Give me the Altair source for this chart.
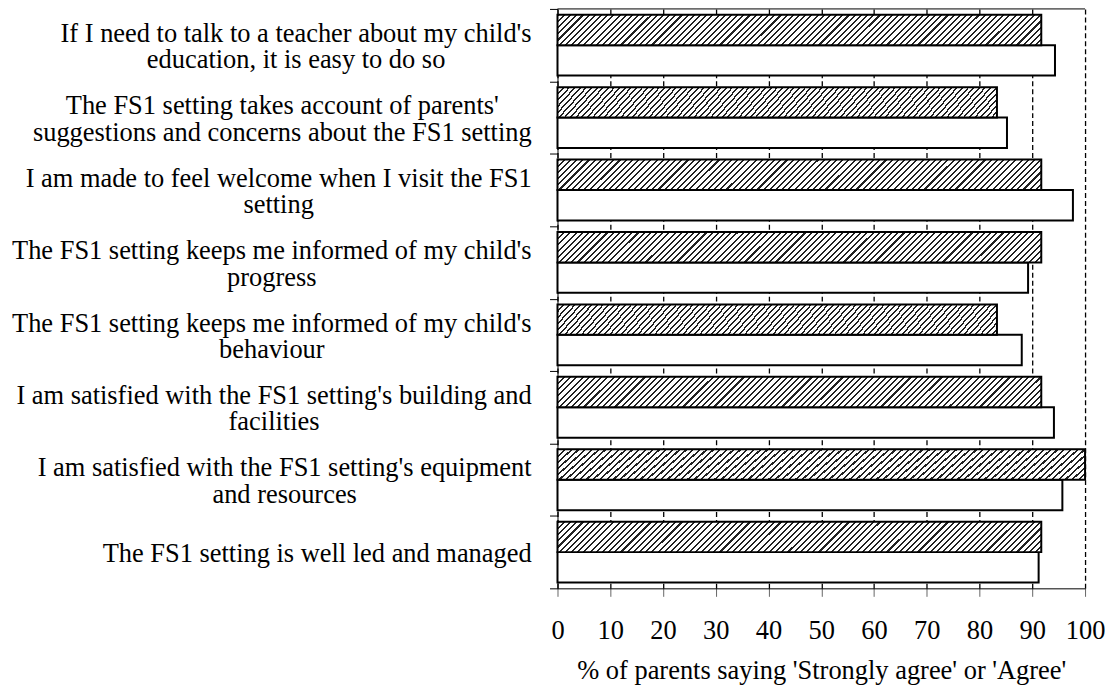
import altair as alt
import pandas as pd

# ---------------- data ----------------
categories = [
    "If I need to talk to a teacher about my child's|education, it is easy to do so",
    "The FS1 setting takes account of parents'|suggestions and concerns about the FS1 setting",
    "I am made to feel welcome when I visit the FS1|setting",
    "The FS1 setting keeps me informed of my child's|progress",
    "The FS1 setting keeps me informed of my child's|behaviour",
    "I am satisfied with the FS1 setting's building and|facilities",
    "I am satisfied with the FS1 setting's equipment|and resources",
    "The FS1 setting is well led and managed",
]
series_names = ["This setting", "All settings"]
hatched_values = [91.7, 83.3, 91.7, 91.7, 83.3, 91.7, 100.0, 91.7]
white_values = [94.3, 85.2, 97.7, 89.2, 88.0, 94.1, 95.7, 91.2]
x_tick_values = [0, 10, 20, 30, 40, 50, 60, 70, 80, 90, 100]
x_title = "% of parents saying 'Strongly agree' or 'Agree'"

# ---------------- layout / style ----------------
FONT = "Liberation Serif"
FS = 26.5
LINE_H = 26.5
PLOT_W, PLOT_H = 529, 581
LABEL_GAP = 25.7  # px between label block and the y axis line

# approximate Times advance widths (1/1000 em) to centre the wrapped label lines
ADV = {' ': 250, "'": 180, ',': 250, '1': 500, 'I': 333, 'T': 611, 'F': 556,
       'S': 556, 'A': 722, 'a': 444, 'b': 500, 'c': 444, 'd': 500, 'e': 444,
       'f': 333, 'g': 500, 'h': 500, 'i': 278, 'j': 278, 'k': 500, 'l': 278,
       'm': 778, 'n': 500, 'o': 500, 'p': 500, 'q': 500, 'r': 333, 's': 389,
       't': 278, 'u': 500, 'v': 500, 'w': 722, 'x': 500, 'y': 500, 'z': 444}


def text_width(s):
    return sum(ADV.get(ch, 500) for ch in s) / 1000.0 * FS


rows = []
for c, a, b in zip(categories, hatched_values, white_values):
    rows.append({"cat": c, "series": series_names[0], "value": a})
    rows.append({"cat": c, "series": series_names[1], "value": b})
bars_df = pd.DataFrame(rows)

labels_df = pd.DataFrame({
    "cat": categories,
    "nlines": [len(c.split("|")) for c in categories],
    "lx": [-(LABEL_GAP + max(text_width(l) for l in c.split("|")) / 2.0) * 100.0 / PLOT_W
           for c in categories],
})

# diagonal hatch drawn as a striped linear gradient
N_STRIPES = 84
DARK_FRAC = 0.34
DARK = "#222222"
stops = []
for i in range(N_STRIPES):
    a = i / N_STRIPES
    b = (i + DARK_FRAC) / N_STRIPES
    c = (i + 1) / N_STRIPES
    stops += [{"offset": a, "color": DARK}, {"offset": b, "color": DARK},
              {"offset": b, "color": "white"}, {"offset": c, "color": "white"}]
hatch = {"gradient": "linear", "x1": 0, "y1": 0, "x2": 1.07, "y2": 0.0674, "stops": stops}

x_scale = alt.Scale(domain=[0, 100], nice=False)
y_scale = alt.Scale(paddingInner=0, paddingOuter=0)
off_scale = alt.Scale(domain=series_names, paddingInner=0, paddingOuter=0.19)

x_axis = alt.Axis(
    values=x_tick_values, title=x_title, grid=True, gridColor="black",
    gridDash=[5, 3], gridWidth=1.3, tickSize=8, tickColor="#666666",
    domainColor="black", domainWidth=1, labelFont=FONT, labelFontSize=FS,
    labelColor="black", labelPadding=21, labelOverlap=False, labelFlush=False,
    titleFont=FONT, titleFontSize=FS,
    titleFontWeight="normal", titleColor="black", titleBaseline="alphabetic",
    titleY=90,
)
y_axis = alt.Axis(
    labels=False, title=None, grid=False, tickBand="extent", tickSize=8,
    tickColor="black", domainColor="black", domainWidth=1,
)

X = alt.X("value:Q", scale=x_scale, axis=x_axis)
Y = alt.Y("cat:N", sort=categories, scale=y_scale, axis=y_axis)
YO = alt.YOffset("series:N", sort=series_names, scale=off_scale)

top_border = alt.Chart(pd.DataFrame({"k": [0]})).mark_rule(
    color="black", strokeWidth=1
).encode(
    x=alt.X(datum=0, scale=x_scale, axis=x_axis),
    x2=alt.X2(datum=100),
    y=alt.value(0),
)

white_bars = alt.Chart(bars_df).transform_filter(
    alt.datum.series == series_names[1]
).mark_bar(fill="white", stroke="black", strokeWidth=2).encode(x=X, y=Y, yOffset=YO)

hatched_bars = alt.Chart(bars_df).transform_filter(
    alt.datum.series == series_names[0]
).mark_bar(fill=hatch, stroke="black", strokeWidth=2).encode(x=X, y=Y, yOffset=YO)


def label_layer(n_lines):
    return alt.Chart(labels_df).transform_filter(
        alt.datum.nlines == n_lines
    ).mark_text(
        align="center", baseline="middle", lineBreak="|", lineHeight=LINE_H,
        font=FONT, fontSize=FS, color="black",
        dy=2 - (n_lines - 1) * LINE_H / 2.0,
    ).encode(
        x=alt.X("lx:Q", scale=x_scale, axis=x_axis),
        y=Y,
        text="cat:N",
    )


chart = alt.layer(
    top_border, white_bars, hatched_bars, label_layer(1), label_layer(2)
).properties(
    width=PLOT_W, height=PLOT_H,
    autosize=alt.AutoSizeParams(type="none"),
    padding={"left": 551, "top": 0, "right": 20, "bottom": 96},
).configure_view(strokeWidth=0)

chart.save("out.html", embed_options={"renderer": "svg", "actions": False})
